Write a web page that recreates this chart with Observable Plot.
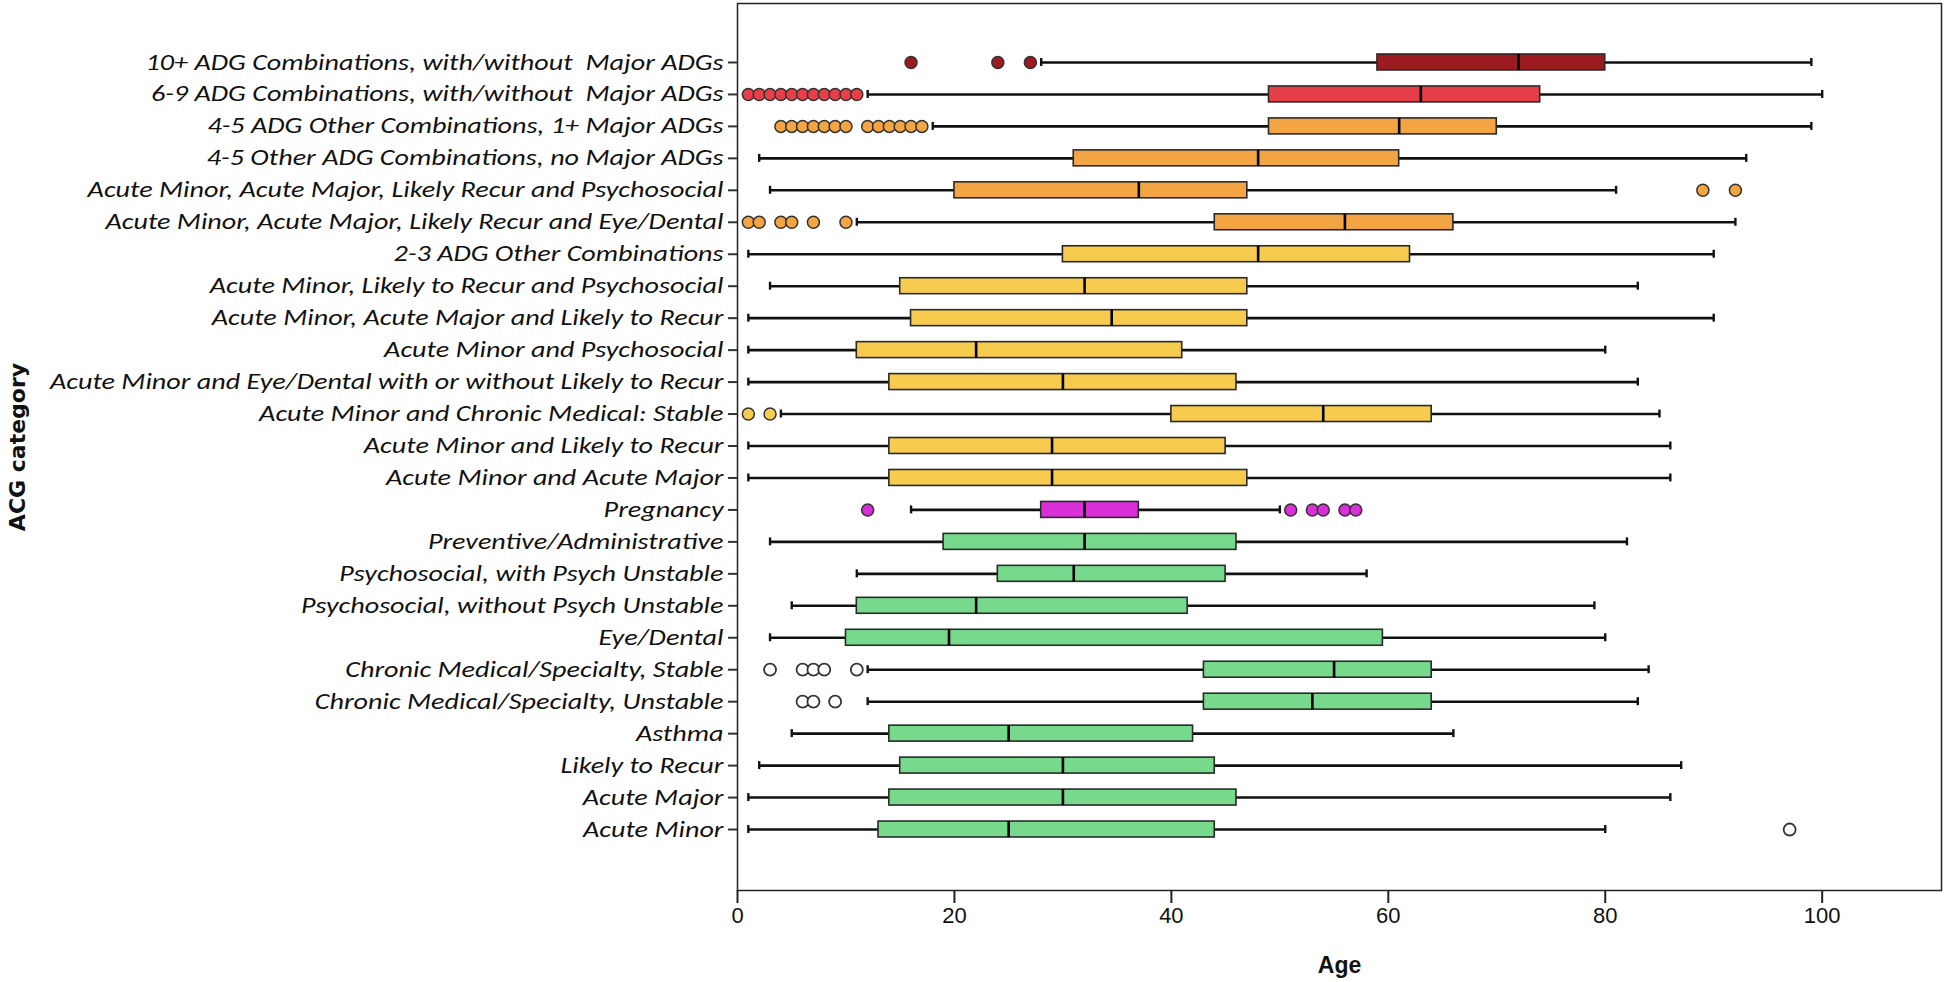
<!DOCTYPE html>
<html>
<head>
<meta charset="utf-8">
<script src="https://cdn.jsdelivr.net/npm/d3@7"></script>
<script src="https://cdn.jsdelivr.net/npm/@observablehq/plot@0.6"></script>
<style>
  html, body { margin: 0; padding: 0; background: #fff; }
  #chart svg { display: block; }
  #chart text { white-space: pre; }
</style>
</head>
<body>
<div id="chart"></div>
<script>
// ---- Data ----
const categories = [
  "10+ ADG Combinations, with/without  Major ADGs",
  "6-9 ADG Combinations, with/without  Major ADGs",
  "4-5 ADG Other Combinations, 1+ Major ADGs",
  "4-5 Other ADG Combinations, no Major ADGs",
  "Acute Minor, Acute Major, Likely Recur and Psychosocial",
  "Acute Minor, Acute Major, Likely Recur and Eye/Dental",
  "2-3 ADG Other Combinations",
  "Acute Minor, Likely to Recur and Psychosocial",
  "Acute Minor, Acute Major and Likely to Recur",
  "Acute Minor and Psychosocial",
  "Acute Minor and Eye/Dental with or without Likely to Recur",
  "Acute Minor and Chronic Medical: Stable",
  "Acute Minor and Likely to Recur",
  "Acute Minor and Acute Major",
  "Pregnancy",
  "Preventive/Administrative",
  "Psychosocial, with Psych Unstable",
  "Psychosocial, without Psych Unstable",
  "Eye/Dental",
  "Chronic Medical/Specialty, Stable",
  "Chronic Medical/Specialty, Unstable",
  "Asthma",
  "Likely to Recur",
  "Acute Major",
  "Acute Minor"
];
const groups = [
  "10+ ADGs", "6-9 ADGs", "4-5 ADGs", "4-5 ADGs", "4-5 ADGs", "4-5 ADGs",
  "2-3 ADGs", "2-3 ADGs", "2-3 ADGs", "2-3 ADGs", "2-3 ADGs", "2-3 ADGs", "2-3 ADGs", "2-3 ADGs",
  "Pregnancy",
  "1 ADG", "1 ADG", "1 ADG", "1 ADG", "1 ADG", "1 ADG", "1 ADG", "1 ADG", "1 ADG", "1 ADG"
];
const whiskerLow  = [28, 12, 18,  2,  3, 11,  1,  3,  1,    1,  1,  4,  1,  1, 16,  3, 11,  5,    3,   12, 12,  5,  2,  1,  1];
const q1          = [59, 49, 49, 31, 20, 44, 30, 15, 16,   11, 14, 40, 14, 14, 28, 19, 24, 11,   10,   43, 43, 14, 15, 14, 13];
const median      = [72, 63, 61, 48, 37, 56, 48, 32, 34.5, 22, 30, 54, 29, 29, 32, 32, 31, 22,   19.5, 55, 53, 25, 30, 30, 25];
const q3          = [80, 74, 70, 61, 47, 66, 62, 47, 47,   41, 46, 64, 45, 47, 37, 46, 45, 41.5, 59.5, 64, 64, 42, 44, 46, 44];
const whiskerHigh = [99, 100, 99, 93, 81, 92, 90, 83, 90,  80, 83, 85, 86, 86, 50, 82, 58, 79,   80,   84, 83, 66, 87, 86, 80];
const outlierValues = [
  [16, 24, 27],
  [1, 2, 3, 4, 5, 6, 7, 8, 9, 10, 11],
  [4, 5, 6, 7, 8, 9, 10, 12, 13, 14, 15, 16, 17],
  [],
  [89, 92],
  [1, 2, 4, 5, 7, 10],
  [], [], [], [], [],
  [1, 3],
  [], [],
  [12, 51, 53, 54, 56, 57],
  [], [], [], [],
  [3, 6, 7, 8, 11],
  [6, 7, 9],
  [], [], [],
  [97]
];
const groupDomain = ["10+ ADGs", "6-9 ADGs", "4-5 ADGs", "2-3 ADGs", "Pregnancy", "1 ADG"];
const groupColors = ["#9c1b21", "#e63f49", "#f3a443", "#f6cb4e", "#d92fd9", "#76d98c"];
const xTicks = [0, 20, 40, 60, 80, 100];

// ---- Build tables ----
const stats = categories.map((cat, i) => ({
  cat, group: groups[i],
  lo: whiskerLow[i], q1: q1[i], med: median[i], q3: q3[i], hi: whiskerHigh[i]
}));
const outliers = categories.flatMap((cat, i) =>
  outlierValues[i].map(v => ({cat, group: groups[i], v}))
);
const filledOutliers = outliers.filter(d => d.group !== "1 ADG");
const hollowOutliers = outliers.filter(d => d.group === "1 ADG");

const labelFont = "Carlito, Lato, 'Open Sans', sans-serif";
const narrowFont = "'Liberation Sans Narrow', 'Arial Narrow', 'Liberation Sans', Arial, sans-serif";

const chart = Plot.plot({
  width: 1946,
  height: 982,
  marginLeft: 737,
  marginRight: 5,
  marginTop: 3,
  marginBottom: 92,
  style: {background: "#fff", color: "#111", fontFamily: labelFont},
  x: {domain: [0, 111], ticks: xTicks},
  y: {domain: categories, padding: 0, round: false, insetTop: 43, insetBottom: 45},
  color: {domain: groupDomain, range: groupColors},
  marks: [
    Plot.frame({stroke: "#222", strokeWidth: 1.5}),
    Plot.ruleY([0], {frameAnchor: "bottom", stroke: "#333", strokeWidth: 3}),
    // whiskers
    Plot.ruleY(stats, {y: "cat", x1: "lo", x2: "hi", stroke: "#111", strokeWidth: 2.6}),
    Plot.tickX(stats, {x: "lo", y: "cat", stroke: "#111", strokeWidth: 2.4, insetTop: 12, insetBottom: 12}),
    Plot.tickX(stats, {x: "hi", y: "cat", stroke: "#111", strokeWidth: 2.4, insetTop: 12, insetBottom: 12}),
    // boxes
    Plot.barX(stats, {x1: "q1", x2: "q3", y: "cat", fill: "group", stroke: "#2a2a2a", strokeWidth: 1.6, insetTop: 8, insetBottom: 8}),
    Plot.tickX(stats, {x: "med", y: "cat", stroke: "#000", strokeWidth: 2.6, insetTop: 8, insetBottom: 8}),
    // outliers
    Plot.dot(filledOutliers, {x: "v", y: "cat", r: 6, fill: "group", stroke: "#333", strokeWidth: 1.5}),
    Plot.dot(hollowOutliers, {x: "v", y: "cat", r: 6, fill: "#fff", stroke: "#333", strokeWidth: 1.8}),
    // axes
    Plot.axisX({ticks: xTicks, tickSize: 13, tickPadding: 4, stroke: "#222", strokeWidth: 2,
      fontSize: 22, fontFamily: narrowFont, fill: "#111", label: null}),
    Plot.axisY({tickSize: 9, tickPadding: 5, stroke: "#333", strokeWidth: 2,
      fontSize: 22, fontStyle: "italic", fontFamily: labelFont, fill: "#111", label: null}),
    Plot.text(["Age"], {frameAnchor: "bottom", dy: 75, lineAnchor: "middle", textAnchor: "middle",
      fontSize: 23, fontWeight: "bold", fontFamily: narrowFont, fill: "#111"}),
    Plot.text(["ACG category"], {frameAnchor: "left", dx: -720, rotate: -90, textAnchor: "middle",
      lineAnchor: "middle", fontSize: 22, fontWeight: "bold",
      fontFamily: "'DejaVu Sans', Verdana, sans-serif", fill: "#111"})
  ]
});
document.getElementById("chart").appendChild(chart);

// Widen the category labels horizontally to match the reference's wide lettering
const tickTexts = Array.from(chart.querySelectorAll('g[aria-label="y-axis tick label"] text'));
const firstLabel = tickTexts.find(t => t.textContent === categories[0]) || tickTexts[0];
if (firstLabel) {
  const stretch = 578 / firstLabel.getComputedTextLength();
  tickTexts.forEach(t => {
    const w = t.getComputedTextLength();
    t.setAttribute("textLength", (w * stretch).toFixed(1));
    t.setAttribute("lengthAdjust", "spacingAndGlyphs");
  });
}
</script>
</body>
</html>
